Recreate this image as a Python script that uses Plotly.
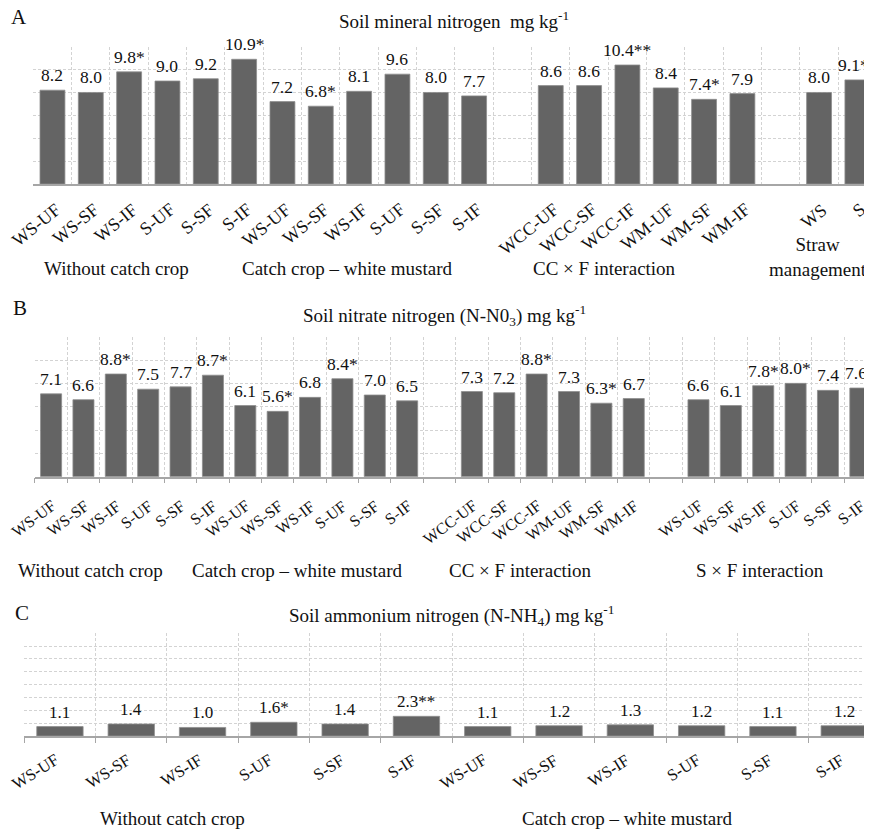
import plotly.graph_objects as go

W, H = 872, 829
PAGE_OFF = 8          # the browser's default body margin shifts the figure by 8px
FONT = "Liberation Serif, Times New Roman, serif"
BAR = "#646464"
GRID = "#d3d3d3"
AXIS = "#a6a6a6"

# ---------------- data ----------------
trt6 = ["WS-UF", "WS-SF", "WS-IF", "S-UF", "S-SF", "S-IF"]
cc6 = ["WCC-UF", "WCC-SF", "WCC-IF", "WM-UF", "WM-SF", "WM-IF"]
straw2 = ["WS", "S"]

# Panel A - soil mineral nitrogen
A_without_vals = [8.2, 8.0, 9.8, 9.0, 9.2, 10.9]
A_without_sig = ["", "", "*", "", "", "*"]
A_mustard_vals = [7.2, 6.8, 8.1, 9.6, 8.0, 7.7]
A_mustard_sig = ["", "*", "", "", "", ""]
A_ccf_vals = [8.6, 8.6, 10.4, 8.4, 7.4, 7.9]
A_ccf_sig = ["", "", "**", "", "*", ""]
A_straw_vals = [8.0, 9.1]
A_straw_sig = ["", "**"]

# Panel B - soil nitrate nitrogen
B_without_vals = [7.1, 6.6, 8.8, 7.5, 7.7, 8.7]
B_without_sig = ["", "", "*", "", "", "*"]
B_mustard_vals = [6.1, 5.6, 6.8, 8.4, 7.0, 6.5]
B_mustard_sig = ["", "*", "", "*", "", ""]
B_ccf_vals = [7.3, 7.2, 8.8, 7.3, 6.3, 6.7]
B_ccf_sig = ["", "", "*", "", "*", ""]
B_sf_vals = [6.6, 6.1, 7.8, 8.0, 7.4, 7.6]
B_sf_sig = ["", "", "*", "*", "", "*"]

# Panel C - soil ammonium nitrogen
C_without_vals = [1.1, 1.4, 1.0, 1.6, 1.4, 2.3]
C_without_sig = ["", "", "", "*", "", "**"]
C_mustard_vals = [1.1, 1.2, 1.3, 1.2, 1.1, 1.2]
C_mustard_sig = ["", "", "", "", "", ""]

fig = go.Figure()
annotations = []


def px_x(p):
    return (p - PAGE_OFF) / W


def px_y(p):
    return 1 - (p - PAGE_OFF) / H


def panel(idx, groups, gaps_after, left_px, cat_px, top_px, bottom_px,
          ymax, dtick, ticks, tickangle, tickfont, tick_dx, tick_dy, valfont):
    xa = "x" if idx == 1 else f"x{idx}"
    ya = "y" if idx == 1 else f"y{idx}"
    keys, texts, vals, labels = [], [], [], []
    for gi, (labs, v, s) in enumerate(groups):
        for lab, val, sg in zip(labs, v, s):
            keys.append(f"{idx}-{gi}-{lab}")
            labels.append(lab)
            vals.append(val)
            texts.append(f"{val:.1f}{sg}")
        if gi in gaps_after:
            keys.append(f"{idx}-gap{gi}")
            labels.append("")
            vals.append(None)
            texts.append("")
    fig.add_trace(go.Bar(
        x=keys, y=vals, xaxis=xa, yaxis=ya,
        marker=dict(color=BAR, line=dict(color="#8e8e8e", width=0.8)),
        width=0.65, showlegend=False, hoverinfo="skip",
    ))
    for k, v, t, lab in zip(keys, vals, texts, labels):
        if v is None:
            continue
        # value label above the bar
        annotations.append(dict(
            x=k, y=v, xref=xa, yref=ya, text=t, showarrow=False,
            yanchor="bottom", xanchor="center", yshift=3,
            font=dict(family=FONT, size=valfont, color="#111111"),
        ))
        # rotated category label below the axis
        annotations.append(dict(
            x=k, y=0, xref=xa, yref=ya, text=lab, showarrow=False,
            xanchor="right", yanchor="top", textangle=tickangle,
            xshift=tick_dx, yshift=-tick_dy, borderpad=0,
            font=dict(family=FONT, size=tickfont, color="#111111"),
        ))
    left_fig = left_px - PAGE_OFF
    n_visible = (W - left_fig) / cat_px
    axname = "xaxis" if idx == 1 else f"xaxis{idx}"
    yname = "yaxis" if idx == 1 else f"yaxis{idx}"
    fig.update_layout(**{
        axname: dict(
            domain=[left_fig / W, 1], anchor=ya, automargin=False,
            type="category", categoryorder="array", categoryarray=keys,
            tickvals=keys, tickson="boundaries", showticklabels=False,
            range=[-0.5, -0.5 + n_visible],
            showgrid=True, gridcolor=GRID, griddash="3px,2px", gridwidth=1,
            showline=True, linecolor=AXIS, linewidth=1.5,
            ticks=ticks, ticklen=5, tickcolor=AXIS, tickwidth=1,
            fixedrange=True, zeroline=False,
        ),
        yname: dict(
            domain=[px_y(bottom_px), px_y(top_px)], anchor=xa, automargin=False,
            range=[0, ymax], dtick=dtick, tick0=0,
            showgrid=True, gridcolor=GRID, griddash="3px,2px", gridwidth=1,
            showticklabels=False, showline=False, zeroline=False, ticks="",
            fixedrange=True,
        ),
    })


panel(1,
      [(trt6, A_without_vals, A_without_sig),
       (trt6, A_mustard_vals, A_mustard_sig),
       (cc6, A_ccf_vals, A_ccf_sig),
       (straw2, A_straw_vals, A_straw_sig)],
      gaps_after={1, 2}, left_px=33.3, cat_px=38.33, top_px=46.7, bottom_px=184,
      ymax=12, dtick=2, ticks="", tickangle=-39, tickfont=18,
      tick_dx=13, tick_dy=14, valfont=17.5)

panel(2,
      [(trt6, B_without_vals, B_without_sig),
       (trt6, B_mustard_vals, B_mustard_sig),
       (cc6, B_ccf_vals, B_ccf_sig),
       (trt6, B_sf_vals, B_sf_sig)],
      gaps_after={1, 2}, left_px=34.9, cat_px=32.37, top_px=336.7, bottom_px=476.7,
      ymax=12, dtick=2, ticks="outside", tickangle=-37, tickfont=16,
      tick_dx=9, tick_dy=19, valfont=17.5)

panel(3,
      [(trt6, C_without_vals, C_without_sig),
       (trt6, C_mustard_vals, C_mustard_sig)],
      gaps_after=set(), left_px=24.3, cat_px=71.3, top_px=633.3, bottom_px=736,
      ymax=12, dtick=1.5, ticks="outside", tickangle=-32, tickfont=16.5,
      tick_dx=4, tick_dy=13, valfont=17)


def ptext(x, y, text, size, xanchor="center"):
    annotations.append(dict(
        x=px_x(x), y=px_y(y), xref="paper", yref="paper", text=text,
        showarrow=False, xanchor=xanchor, yanchor="middle",
        font=dict(family=FONT, size=size, color="#111111"),
    ))


# panel letters and titles
ptext(9, 17, "A", 21, "left")
ptext(454, 20, "Soil mineral nitrogen  mg kg<sup>-1</sup>", 19)
ptext(11, 308, "B", 21, "left")
ptext(444, 315, "Soil nitrate nitrogen (N-N0<sub>3</sub>) mg kg<sup>-1</sup>", 19)
ptext(13, 613, "C", 21, "left")
ptext(452, 615, "Soil ammonium nitrogen (N-NH<sub>4</sub>) mg kg<sup>-1</sup>", 19)

# group labels
ptext(116, 268, "Without catch crop", 19)
ptext(347, 268, "Catch crop – white mustard", 19)
ptext(604, 268, "CC × F interaction", 19)
ptext(818, 257, "Straw<br>management", 19)

ptext(90, 570, "Without catch crop", 19)
ptext(297, 570, "Catch crop – white mustard", 19)
ptext(520, 570, "CC × F interaction", 19)
ptext(760, 570, "S × F interaction", 19)

ptext(172, 818, "Without catch crop", 19)
ptext(627, 818, "Catch crop – white mustard", 19)

fig.update_layout(
    width=W, height=H, margin=dict(l=0, r=0, t=0, b=0, autoexpand=False),
    paper_bgcolor="white", plot_bgcolor="white",
    annotations=annotations, bargap=0.35,
    font=dict(family=FONT, color="#111111"),
)

fig.write_html("out.html")
